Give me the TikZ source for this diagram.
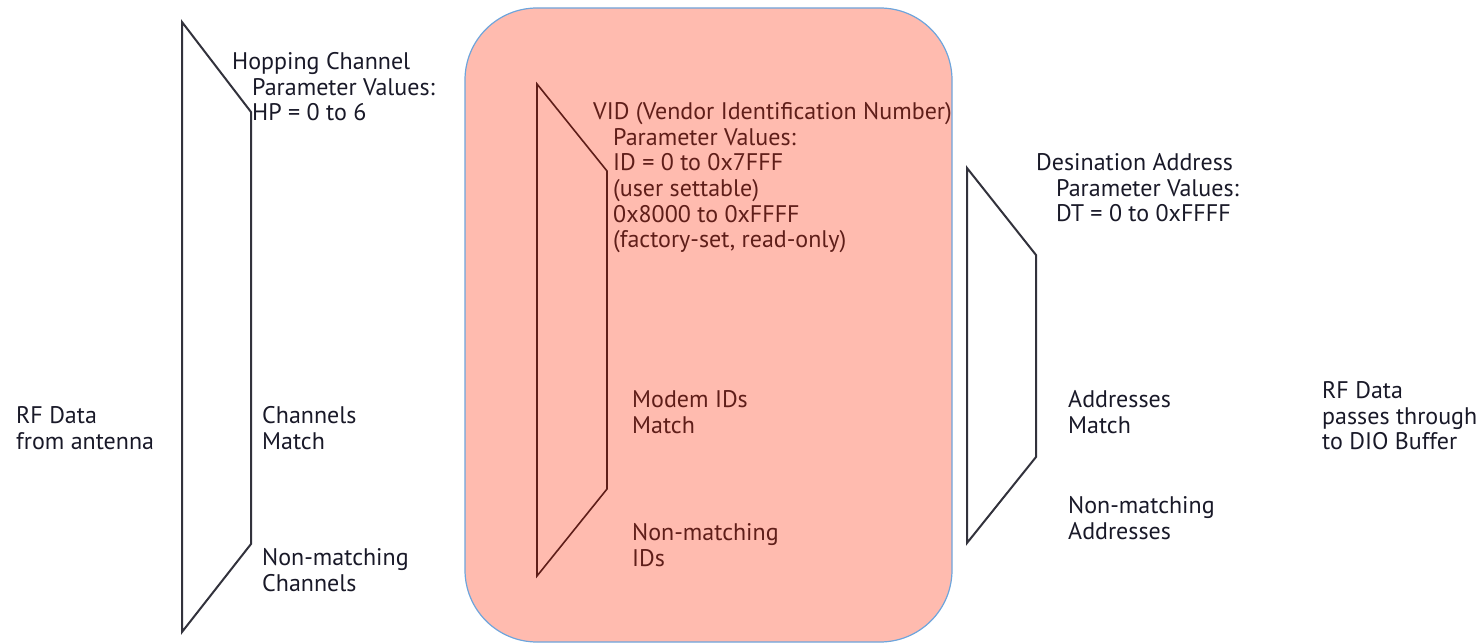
\documentclass[tikz,border=0pt]{standalone}
\usepackage{fontspec}
\setmainfont{PT Sans}
\definecolor{inkdark}{RGB}{25,25,40}
\definecolor{inkbrown}{RGB}{95,30,25}
\definecolor{boxfill}{RGB}{255,187,175}
\definecolor{boxedge}{RGB}{110,165,220}
\definecolor{gateline}{RGB}{50,50,60}
\begin{document}
\begin{tikzpicture}[x=1pt,y=-1pt,
  label/.style={anchor=north west, inner sep=0pt, align=left,
    font=\fontsize{24}{25.7}\selectfont, text=inkdark},
  innerlabel/.style={label, text=inkbrown},
  gate/.style={draw=gateline, line width=2pt, line join=miter},
  innergate/.style={draw=inkbrown, line width=1.6pt, line join=miter},
  filterbox/.style={fill=boxfill, draw=boxedge, line width=1.2pt, rounded corners=72pt}]
\useasboundingbox (0,0) rectangle (1481,644);

% VID filter stage background
\draw[filterbox] (465,8) rectangle (952,642);

% hopping channel gate
\coordinate (h1) at (182,22);
\coordinate (h2) at (251,112);
\coordinate (h3) at (251,544);
\coordinate (h4) at (182,632);
\draw[gate] (h1) -- (h2) -- (h3) -- (h4) -- cycle;

% vendor ID gate
\coordinate (v1) at (537,84);
\coordinate (v2) at (607,171);
\coordinate (v3) at (607,489);
\coordinate (v4) at (537,576);
\draw[innergate] (v1) -- (v2) -- (v3) -- (v4) -- cycle;

% destination address gate
\coordinate (d1) at (967,168);
\coordinate (d2) at (1036,255);
\coordinate (d3) at (1036,457);
\coordinate (d4) at (967,543);
\draw[gate] (d1) -- (d2) -- (d3) -- (d4) -- cycle;

% labels
\node[label] (rfin) at (16,405.15) {\strut RF Data\\from antenna};
\node[label] (hop) at (232,51.15) {\strut Hopping Channel\\\hspace*{20pt}Parameter Values:\\\hspace*{20pt}HP = 0 to 6};
\node[label] (chm) at (262,405.15) {\strut Channels\\Match};
\node[label] (chn) at (262,547.15) {\strut Non-matching\\Channels};

\node[innerlabel] (vid) at (593,101.15) {\strut VID (Vendor Identification Number)\\\hspace*{20pt}Parameter Values:\\\hspace*{20pt}ID = 0 to 0x7FFF\\\hspace*{20pt}(user settable)\\\hspace*{20pt}0x8000 to 0xFFFF\\\hspace*{20pt}(factory-set, read-only)};
\node[innerlabel] (idm) at (632,389.15) {\strut Modem IDs\\Match};
\node[innerlabel] (idn) at (632,522.15) {\strut Non-matching\\IDs};

\node[label] (dst) at (1036,152.15) {\strut Desination Address\\\hspace*{20pt}Parameter Values:\\\hspace*{20pt}DT = 0 to 0xFFFF};
\node[label] (adm) at (1068,389.15) {\strut Addresses\\Match};
\node[label] (adn) at (1068,495.15) {\strut Non-matching\\Addresses};
\node[label] (rfout) at (1322,380.15) {\strut RF Data\\passes through\\to DIO Buffer};
\end{tikzpicture}
\end{document}
